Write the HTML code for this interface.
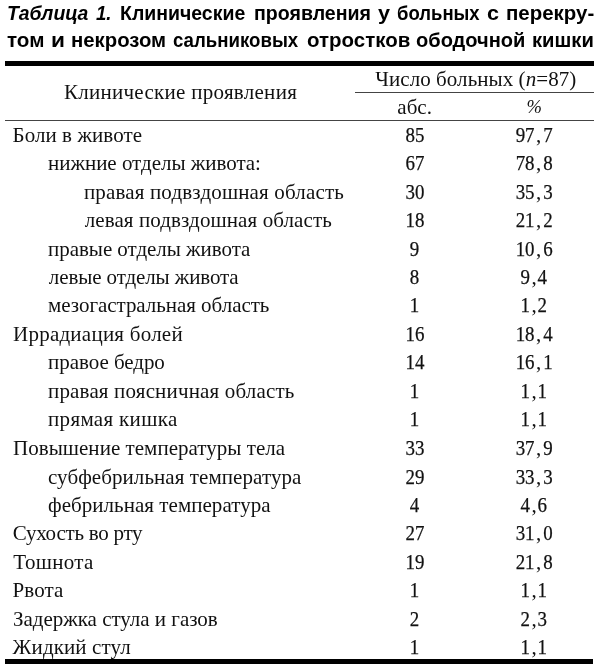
<!DOCTYPE html>
<html><head><meta charset="utf-8"><style>
html,body{margin:0;padding:0;background:#fff;}
body{width:600px;height:664px;position:relative;overflow:hidden;font-family:"Liberation Serif",serif;color:#111;}
.t{position:absolute;white-space:nowrap;line-height:1;font-size:21px;}
.c{transform:translateX(-50%);}
.ttl{font-family:"Liberation Sans",sans-serif;font-weight:bold;font-size:20px;color:#000;transform-origin:0 0;}
.r{position:absolute;background:#000;}
.d{display:inline-block;transform:scaleX(0.9);-webkit-text-stroke:0.25px #111;}
#L{position:absolute;left:0;top:0;width:600px;height:664px;will-change:transform;}
</style></head><body><div id="L">

<div class="t ttl" style="left:6.62px;top:3.0px;transform:scaleX(0.969);"><i>Таблица</i></div>
<div class="t ttl" style="left:95.90px;top:3.0px;transform:scaleX(0.932);"><i>1.</i></div>
<div class="t ttl" style="left:120.12px;top:3.0px;transform:scaleX(0.974);">Клинические</div>
<div class="t ttl" style="left:254.44px;top:3.0px;transform:scaleX(0.979);">проявления</div>
<div class="t ttl" style="left:378.44px;top:3.0px;transform:scaleX(1.080);">у</div>
<div class="t ttl" style="left:396.70px;top:3.0px;transform:scaleX(0.925);">больных</div>
<div class="t ttl" style="left:486.56px;top:3.0px;transform:scaleX(1.080);">с</div>
<div class="t ttl" style="left:505.88px;top:3.0px;transform:scaleX(1.022);">перекру-</div>
<div class="t ttl" style="left:6.78px;top:28.7px;font-size:21px;transform:scaleX(0.981);">том</div>
<div class="t ttl" style="left:50.78px;top:28.7px;font-size:21px;transform:scaleX(1.080);">и</div>
<div class="t ttl" style="left:71.00px;top:28.7px;font-size:21px;transform:scaleX(0.968);">некрозом</div>
<div class="t ttl" style="left:173.14px;top:28.7px;font-size:21px;transform:scaleX(0.888);">сальниковых</div>
<div class="t ttl" style="left:306.51px;top:28.7px;font-size:21px;transform:scaleX(0.975);">отростков</div>
<div class="t ttl" style="left:416.09px;top:28.7px;font-size:21px;transform:scaleX(0.955);">ободочной</div>
<div class="t ttl" style="left:532.38px;top:28.7px;font-size:21px;transform:scaleX(0.961);">кишки</div>
<div class="r" style="left:5px;top:61px;width:588.7px;height:4.9px;"></div>
<div class="r" style="left:355px;top:91.6px;width:238.7px;height:1.2px;background:#444;"></div>
<div class="r" style="left:5px;top:120.1px;width:588.7px;height:1.25px;background:#444;"></div>
<div class="r" style="left:5px;top:658.8px;width:587.6px;height:7px;"></div>
<div class="t c" id="h1" style="left:180.5px;top:82.1px;letter-spacing:0.28px;">Клинические проявления</div>
<div class="t c" id="h2" style="left:475.8px;top:68.5px;letter-spacing:0.06px;">Число больных (<i>n</i>=87)</div>
<div class="t c" id="h3" style="left:414.6px;top:97px;">абс.</div>
<div class="t c" id="h4" style="left:534.2px;top:97.6px;font-size:18.5px;font-style:italic;">%</div>
<div class="t" id="r0" style="left:12.50px;top:125.09px;letter-spacing:0.07px;">Боли в животе</div>
<div class="t c" id="a0" style="left:415px;top:125.09px;"><span class="d" style="margin:0 -1.05px">85</span></div>
<div class="t c" id="p0" style="left:534px;top:125.09px;"><span class="d" style="margin:0 -1.05px">97</span><span style="margin:0 1.57px">,</span><span class="d" style="margin:0 -0.52px">7</span></div>
<div class="t" id="r1" style="left:48.00px;top:153.48px;letter-spacing:-0.02px;">нижние отделы живота:</div>
<div class="t c" id="a1" style="left:415px;top:153.48px;"><span class="d" style="margin:0 -1.05px">67</span></div>
<div class="t c" id="p1" style="left:534px;top:153.48px;"><span class="d" style="margin:0 -1.05px">78</span><span style="margin:0 1.57px">,</span><span class="d" style="margin:0 -0.52px">8</span></div>
<div class="t" id="r2" style="left:83.90px;top:181.87px;letter-spacing:0.16px;">правая подвздошная область</div>
<div class="t c" id="a2" style="left:415px;top:181.87px;"><span class="d" style="margin:0 -1.05px">30</span></div>
<div class="t c" id="p2" style="left:534px;top:181.87px;"><span class="d" style="margin:0 -1.05px">35</span><span style="margin:0 1.57px">,</span><span class="d" style="margin:0 -0.52px">3</span></div>
<div class="t" id="r3" style="left:84.70px;top:210.26px;letter-spacing:0.10px;">левая подвздошная область</div>
<div class="t c" id="a3" style="left:415px;top:210.26px;"><span class="d" style="margin:0 -1.05px">18</span></div>
<div class="t c" id="p3" style="left:534px;top:210.26px;"><span class="d" style="margin:0 -1.05px">21</span><span style="margin:0 1.57px">,</span><span class="d" style="margin:0 -0.52px">2</span></div>
<div class="t" id="r4" style="left:48.00px;top:238.65px;letter-spacing:-0.04px;">правые отделы живота</div>
<div class="t c" id="a4" style="left:415px;top:238.65px;"><span class="d" style="margin:0 -0.52px">9</span></div>
<div class="t c" id="p4" style="left:534px;top:238.65px;"><span class="d" style="margin:0 -1.05px">10</span><span style="margin:0 1.57px">,</span><span class="d" style="margin:0 -0.52px">6</span></div>
<div class="t" id="r5" style="left:48.80px;top:267.04px;letter-spacing:-0.11px;">левые отделы живота</div>
<div class="t c" id="a5" style="left:415px;top:267.04px;"><span class="d" style="margin:0 -0.52px">8</span></div>
<div class="t c" id="p5" style="left:534px;top:267.04px;"><span class="d" style="margin:0 -0.52px">9</span><span style="margin:0 1.05px">,</span><span class="d" style="margin:0 -0.52px">4</span></div>
<div class="t" id="r6" style="left:48.00px;top:295.43px;letter-spacing:-0.04px;">мезогастральная область</div>
<div class="t c" id="a6" style="left:415px;top:295.43px;"><span class="d" style="margin:0 -0.52px">1</span></div>
<div class="t c" id="p6" style="left:534px;top:295.43px;"><span class="d" style="margin:0 -0.52px">1</span><span style="margin:0 1.05px">,</span><span class="d" style="margin:0 -0.52px">2</span></div>
<div class="t" id="r7" style="left:13.00px;top:323.82px;letter-spacing:0.24px;">Иррадиация болей</div>
<div class="t c" id="a7" style="left:415px;top:323.82px;"><span class="d" style="margin:0 -1.05px">16</span></div>
<div class="t c" id="p7" style="left:534px;top:323.82px;"><span class="d" style="margin:0 -1.05px">18</span><span style="margin:0 1.57px">,</span><span class="d" style="margin:0 -0.52px">4</span></div>
<div class="t" id="r8" style="left:48.00px;top:352.21px;letter-spacing:-0.04px;">правое бедро</div>
<div class="t c" id="a8" style="left:415px;top:352.21px;"><span class="d" style="margin:0 -1.05px">14</span></div>
<div class="t c" id="p8" style="left:534px;top:352.21px;"><span class="d" style="margin:0 -1.05px">16</span><span style="margin:0 1.57px">,</span><span class="d" style="margin:0 -0.52px">1</span></div>
<div class="t" id="r9" style="left:48.00px;top:380.60px;letter-spacing:0.17px;">правая поясничная область</div>
<div class="t c" id="a9" style="left:415px;top:380.60px;"><span class="d" style="margin:0 -0.52px">1</span></div>
<div class="t c" id="p9" style="left:534px;top:380.60px;"><span class="d" style="margin:0 -0.52px">1</span><span style="margin:0 1.05px">,</span><span class="d" style="margin:0 -0.52px">1</span></div>
<div class="t" id="r10" style="left:48.00px;top:409.29px;letter-spacing:0.33px;">прямая кишка</div>
<div class="t c" id="a10" style="left:415px;top:409.29px;"><span class="d" style="margin:0 -0.52px">1</span></div>
<div class="t c" id="p10" style="left:534px;top:409.29px;"><span class="d" style="margin:0 -0.52px">1</span><span style="margin:0 1.05px">,</span><span class="d" style="margin:0 -0.52px">1</span></div>
<div class="t" id="r11" style="left:13.00px;top:438.28px;letter-spacing:0.03px;">Повышение температуры тела</div>
<div class="t c" id="a11" style="left:415px;top:438.28px;"><span class="d" style="margin:0 -1.05px">33</span></div>
<div class="t c" id="p11" style="left:534px;top:438.28px;"><span class="d" style="margin:0 -1.05px">37</span><span style="margin:0 1.57px">,</span><span class="d" style="margin:0 -0.52px">9</span></div>
<div class="t" id="r12" style="left:48.00px;top:466.67px;letter-spacing:0.07px;">субфебрильная температура</div>
<div class="t c" id="a12" style="left:415px;top:466.67px;"><span class="d" style="margin:0 -1.05px">29</span></div>
<div class="t c" id="p12" style="left:534px;top:466.67px;"><span class="d" style="margin:0 -1.05px">33</span><span style="margin:0 1.57px">,</span><span class="d" style="margin:0 -0.52px">3</span></div>
<div class="t" id="r13" style="left:48.00px;top:495.06px;letter-spacing:0.04px;">фебрильная температура</div>
<div class="t c" id="a13" style="left:415px;top:495.06px;"><span class="d" style="margin:0 -0.52px">4</span></div>
<div class="t c" id="p13" style="left:534px;top:495.06px;"><span class="d" style="margin:0 -0.52px">4</span><span style="margin:0 1.05px">,</span><span class="d" style="margin:0 -0.52px">6</span></div>
<div class="t" id="r14" style="left:12.70px;top:523.45px;letter-spacing:-0.25px;">Сухость во рту</div>
<div class="t c" id="a14" style="left:415px;top:523.45px;"><span class="d" style="margin:0 -1.05px">27</span></div>
<div class="t c" id="p14" style="left:534px;top:523.45px;"><span class="d" style="margin:0 -1.05px">31</span><span style="margin:0 1.57px">,</span><span class="d" style="margin:0 -0.52px">0</span></div>
<div class="t" id="r15" style="left:13.30px;top:551.84px;letter-spacing:0.33px;">Тошнота</div>
<div class="t c" id="a15" style="left:415px;top:551.84px;"><span class="d" style="margin:0 -1.05px">19</span></div>
<div class="t c" id="p15" style="left:534px;top:551.84px;"><span class="d" style="margin:0 -1.05px">21</span><span style="margin:0 1.57px">,</span><span class="d" style="margin:0 -0.52px">8</span></div>
<div class="t" id="r16" style="left:12.50px;top:580.23px;letter-spacing:0.10px;">Рвота</div>
<div class="t c" id="a16" style="left:415px;top:580.23px;"><span class="d" style="margin:0 -0.52px">1</span></div>
<div class="t c" id="p16" style="left:534px;top:580.23px;"><span class="d" style="margin:0 -0.52px">1</span><span style="margin:0 1.05px">,</span><span class="d" style="margin:0 -0.52px">1</span></div>
<div class="t" id="r17" style="left:13.00px;top:608.62px;letter-spacing:-0.02px;">Задержка стула и газов</div>
<div class="t c" id="a17" style="left:415px;top:608.62px;"><span class="d" style="margin:0 -0.52px">2</span></div>
<div class="t c" id="p17" style="left:534px;top:608.62px;"><span class="d" style="margin:0 -0.52px">2</span><span style="margin:0 1.05px">,</span><span class="d" style="margin:0 -0.52px">3</span></div>
<div class="t" id="r18" style="left:12.60px;top:637.01px;letter-spacing:0.12px;">Жидкий стул</div>
<div class="t c" id="a18" style="left:415px;top:637.01px;"><span class="d" style="margin:0 -0.52px">1</span></div>
<div class="t c" id="p18" style="left:534px;top:637.01px;"><span class="d" style="margin:0 -0.52px">1</span><span style="margin:0 1.05px">,</span><span class="d" style="margin:0 -0.52px">1</span></div>
</div></body></html>
